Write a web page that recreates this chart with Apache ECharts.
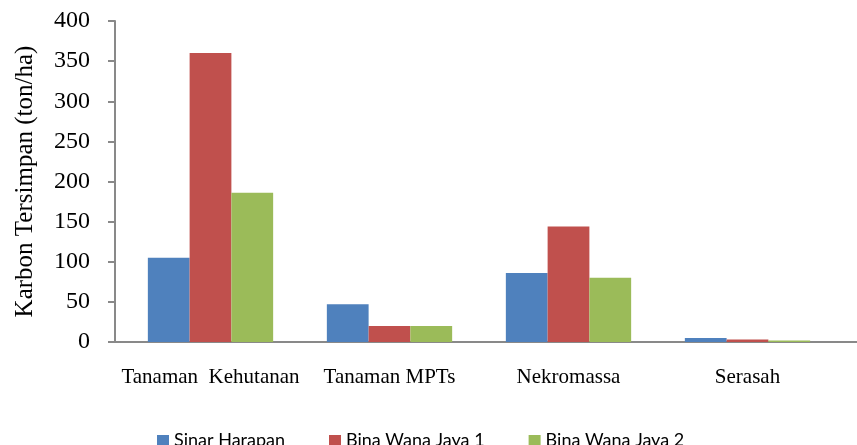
<!DOCTYPE html>
<html>
<head>
<meta charset="utf-8">
<script src="https://cdn.jsdelivr.net/npm/echarts@6/dist/echarts.min.js"></script>
<style>
html,body{margin:0;padding:0;background:#fff;}
#chart{width:857px;height:445px;}
</style>
</head>
<body>
<div id="chart"></div>
<script>
var categories = ['Tanaman  Kehutanan', 'Tanaman MPTs', 'Nekromassa', 'Serasah'];
var seriesNames = ['Sinar Harapan', 'Bina Wana Jaya 1', 'Bina Wana Jaya 2'];
var sinarHarapan = [105, 47, 86, 5];
var binaWanaJaya1 = [360, 20, 144, 3];
var binaWanaJaya2 = [186, 20, 80, 2];
var colors = ['#4F81BD', '#C0504D', '#9BBB59'];

var chart = echarts.init(document.getElementById('chart'));
var serif = 'Liberation Serif, Times New Roman, serif';
var axisColor = '#898989';

function mkSeries(name, data, color) {
  return {
    name: name, type: 'bar', data: data,
    barGap: '0%', barCategoryGap: '30%',
    itemStyle: { color: color },
    emphasis: { disabled: true }
  };
}

chart.setOption({
  animation: false,
  backgroundColor: '#ffffff',
  grid: { left: 121, right: 20, top: 21, bottom: 103, containLabel: false },
  legend: {
    left: 157, top: 425, padding: 0,
    itemWidth: 12, itemHeight: 20, itemGap: 44,
    icon: 'path://M0,0M0,8L12,8L12,20L0,20Z',
    formatter: '{a|{name}}',
    textStyle: {
      fontFamily: 'Lato, sans-serif', fontSize: 18, lineHeight: 12, color: '#000',
      rich: { a: { fontFamily: 'Lato, sans-serif', fontSize: 18, lineHeight: 12, color: '#000', padding: [6, 0, 0, 0] } }
    },
    data: seriesNames
  },
  xAxis: {
    type: 'category', data: categories,
    axisLine: { lineStyle: { color: axisColor, width: 2 } },
    axisTick: { show: false },
    axisLabel: { fontFamily: serif, fontSize: 21, color: '#000', margin: 25, interval: 0 }
  },
  yAxis: {
    type: 'value', min: 0, max: 400, interval: 50, offset: 6,
    name: 'Karbon Tersimpan (ton/ha)',
    nameLocation: 'middle', nameGap: 77,
    nameTextStyle: { fontFamily: serif, fontSize: 25, color: '#000' },
    axisLine: { show: true, lineStyle: { color: axisColor, width: 2 } },
    axisTick: { show: true, length: 7, lineStyle: { color: axisColor, width: 2 } },
    splitLine: { show: false },
    axisLabel: { fontFamily: serif, fontSize: 24, color: '#000', margin: 25 }
  },
  graphic: [{
    type: 'line', silent: true,
    shape: { x1: 114, y1: 342, x2: 857, y2: 342 },
    style: { stroke: axisColor, lineWidth: 2 }
  }],
  series: [
    mkSeries(seriesNames[0], sinarHarapan, colors[0]),
    mkSeries(seriesNames[1], binaWanaJaya1, colors[1]),
    mkSeries(seriesNames[2], binaWanaJaya2, colors[2])
  ]
});
</script>
</body>
</html>
